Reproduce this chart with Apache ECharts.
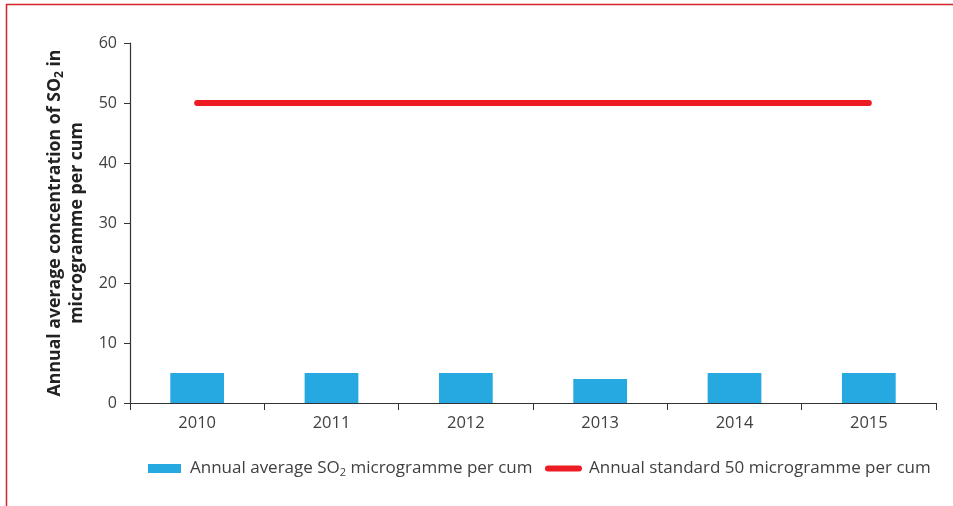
<!DOCTYPE html>
<html>
<head>
<meta charset="utf-8">
<style>
  html, body { margin: 0; padding: 0; background: #fff; }
  #chart { width: 953px; height: 506px; }
</style>
<script src="https://cdn.jsdelivr.net/npm/echarts@6/dist/echarts.min.js"></script>
</head>
<body>
<div id="chart"></div>
<script>
const years = ['2010', '2011', '2012', '2013', '2014', '2015'];
const so2Average = [5, 5, 5, 4, 5, 5];
const annualStandard = [50, 50, 50, 50, 50, 50];
const yTicks = { min: 0, max: 60, interval: 10 };

const FONT = '"Open Sans", "Noto Sans", sans-serif';
const chart = echarts.init(document.getElementById('chart'));

chart.setOption({
  animation: false,
  backgroundColor: '#fff',
  textStyle: { fontFamily: FONT },
  graphic: [{
    type: 'rect',
    shape: { x: 6.5, y: 4.5, width: 1000, height: 600 },
    style: { fill: 'none', stroke: '#d2232a', lineWidth: 1.5 },
    silent: true
  }],
  grid: { left: 130, right: 17, top: 43, bottom: 103 },
  legend: [{
    left: 148, top: 460, padding: 0,
    itemWidth: 33, itemHeight: 9,
    data: [{ name: 'avg', icon: 'rect' }],
    formatter: () => '{a|Annual average SO}{s|2}{a| microgramme per cum}',
    textStyle: {
      padding: [0, 0, 0, 4],
      rich: {
        a: { fontSize: 17, color: '#404040', fontFamily: FONT },
        s: { fontSize: 11, color: '#404040', fontFamily: FONT, verticalAlign: 'bottom', padding: [9, 0, 0, 0] }
      }
    }
  }, {
    left: 545, top: 460, padding: 0,
    itemWidth: 37, itemHeight: 7,
    data: [{ name: 'std', icon: 'path://M3,0 L34,0 A3,3 0 0 1 34,6 L3,6 A3,3 0 0 1 3,0 Z' }],
    formatter: () => 'Annual standard 50 microgramme per cum',
    textStyle: { fontSize: 17, color: '#404040', fontFamily: FONT, padding: [0, 0, 0, 2] }
  }],
  xAxis: {
    type: 'category',
    data: years,
    boundaryGap: true,
    axisLine: { lineStyle: { color: '#333', width: 1.2 } },
    axisTick: { show: true, length: 7, lineStyle: { color: '#333' } },
    axisLabel: { fontSize: 16.5, color: '#404040', margin: 12, fontFamily: FONT }
  },
  yAxis: {
    type: 'value',
    min: yTicks.min, max: yTicks.max, interval: yTicks.interval,
    splitLine: { show: false },
    axisLine: { show: true, lineStyle: { color: '#333', width: 1.2 } },
    axisTick: { show: true, length: 6, lineStyle: { color: '#333' } },
    axisLabel: { fontSize: 16, color: '#404040', margin: 13, fontFamily: FONT },
    name: '{b|Annual average concentration of SO}{s|2}{b| in}\n{b|microgramme per cum}',
    nameLocation: 'middle',
    nameRotate: 90,
    nameGap: 37,
    nameTextStyle: {
      align: 'center',
      lineHeight: 22,
      rich: {
        b: { fontSize: 17.7, fontWeight: 'bold', color: '#222', fontFamily: FONT, lineHeight: 22 },
        s: { fontSize: 12, fontWeight: 'bold', color: '#222', fontFamily: FONT, verticalAlign: 'bottom', lineHeight: 22, padding: [8, 0, 0, 0] }
      }
    }
  },
  series: [{
    name: 'avg',
    type: 'bar',
    data: so2Average,
    barWidth: '40%',
    itemStyle: { color: '#25a9e0' }
  }, {
    name: 'std',
    type: 'line',
    data: annualStandard,
    symbol: 'none',
    itemStyle: { color: '#ed1c24' },
    lineStyle: { color: '#ed1c24', width: 6, cap: 'round' }
  }]
});
</script>
</body>
</html>
